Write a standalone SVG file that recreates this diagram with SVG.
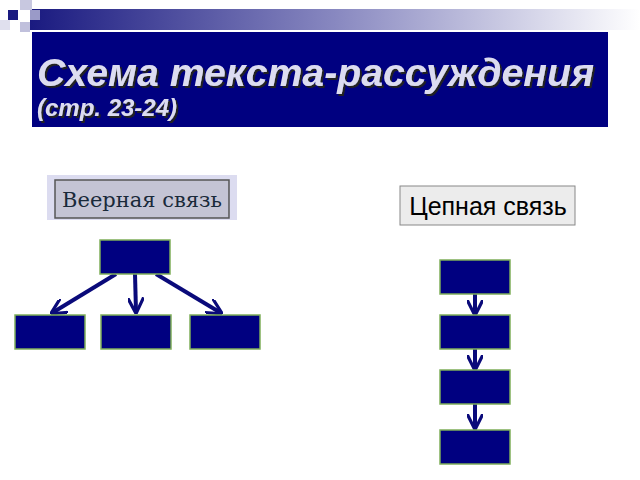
<svg xmlns="http://www.w3.org/2000/svg" width="640" height="480" viewBox="0 0 640 480">
<defs>
<linearGradient id="bar" x1="0" x2="1"><stop offset="0" stop-color="#1a1a80"/><stop offset="0.5" stop-color="#8888c0"/><stop offset="1" stop-color="#ffffff"/></linearGradient>
<filter id="sh" x="-5%" y="-20%" width="110%" height="140%"><feDropShadow dx="2" dy="2" stdDeviation="0.5" flood-color="#222"/></filter>
<marker id="ah" viewBox="0 0 10 10" refX="9" refY="5" markerWidth="4" markerHeight="4" orient="auto"><path d="M0,0 L10,5 L0,10" fill="none" stroke="#0a0a7a" stroke-width="2"/></marker>
<style>
.node{fill:#000080;stroke:#7fae5a;stroke-width:1.5}
.con{stroke:#0a0a7a;stroke-width:4;fill:none;marker-end:url(#ah)}
.tt{font-family:"Liberation Sans",Arial,sans-serif;font-weight:bold;font-style:italic;fill:#dcdcf0;filter:url(#sh)}
</style>
</defs>
<rect width="640" height="480" fill="#fff"/>
<g id="decor">
<rect x="30" y="9" width="610" height="21" fill="url(#bar)"/>
<rect x="8" y="10" width="10" height="10" fill="#1a1a80"/>
<rect x="20" y="0" width="12" height="10" fill="#c8c8e0"/>
<rect x="30" y="10" width="10" height="10" fill="#9a9ac8"/>
<rect x="0" y="20" width="10" height="10" fill="#e0e0ee"/>
<rect x="20" y="22" width="10" height="10" fill="#c0c0dc"/>
</g>
<g id="title">
<rect x="32" y="32" width="576" height="95" fill="#000080"/>
<text class="tt" x="37" y="86" font-size="38" textLength="557" lengthAdjust="spacingAndGlyphs">Схема текста-рассуждения</text>
<text class="tt" x="37" y="116" font-size="24">(стр. 23-24)</text>
</g>
<g id="label-fan">
<rect x="47" y="175" width="190" height="45" fill="#dcdcf0"/>
<rect x="55" y="180" width="174" height="38" fill="#c4c4d4" stroke="#555" stroke-width="1.5"/>
<text x="142" y="207" text-anchor="middle" font-family="DejaVu Serif, serif" font-size="21" fill="#1a2a3a">Веерная связь</text>
</g>
<g id="label-chain">
<rect x="400" y="186" width="175" height="39" fill="#ececec" stroke="#888" stroke-width="1"/>
<text x="488" y="215" text-anchor="middle" font-family="Liberation Sans, Arial, sans-serif" font-size="25" fill="#000">Цепная связь</text>
</g>
<g id="connectors">
<line class="con" x1="116" y1="274" x2="52" y2="313"/>
<line class="con" x1="135" y1="274" x2="136" y2="312"/>
<line class="con" x1="156" y1="274" x2="221" y2="313"/>
<line class="con" x1="475" y1="294" x2="475" y2="314"/>
<line class="con" x1="475" y1="349" x2="475" y2="369"/>
<line class="con" x1="475" y1="404" x2="475" y2="428"/>
</g>
<g id="n-top"><rect class="node" x="100" y="240" width="70" height="34"/></g>
<g id="n-b1"><rect class="node" x="15" y="315" width="70" height="34"/></g>
<g id="n-b2"><rect class="node" x="101" y="315" width="70" height="34"/></g>
<g id="n-b3"><rect class="node" x="190" y="315" width="70" height="34"/></g>
<g id="c1"><rect class="node" x="440" y="260" width="70" height="34"/></g>
<g id="c2"><rect class="node" x="440" y="315" width="70" height="34"/></g>
<g id="c3"><rect class="node" x="440" y="370" width="70" height="34"/></g>
<g id="c4"><rect class="node" x="440" y="430" width="70" height="34"/></g>
</svg>
